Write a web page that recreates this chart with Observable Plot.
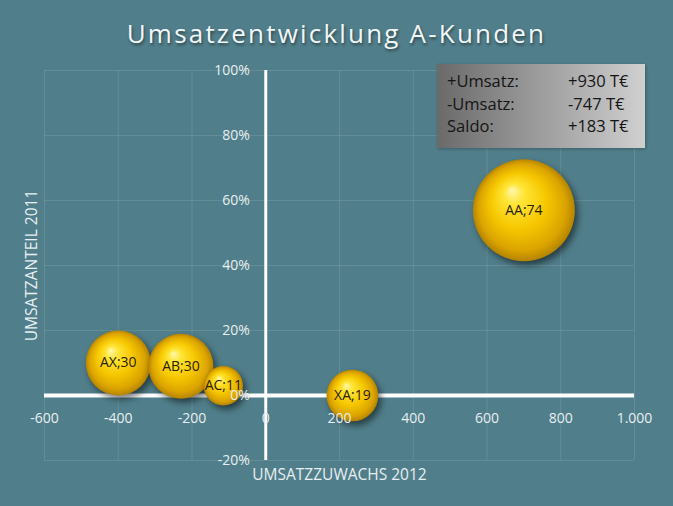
<!DOCTYPE html>
<html><head><meta charset="utf-8">
<script src="https://cdn.jsdelivr.net/npm/d3@7"></script>
<script src="https://cdn.jsdelivr.net/npm/@observablehq/plot@0.6"></script>
<style>
body{margin:0;background:#507e8a;width:673px;height:506px;overflow:hidden;position:relative;font-family:"Open Sans",sans-serif;}
#title{position:absolute;left:0;top:14px;width:673px;text-align:center;font-size:26px;line-height:38px;letter-spacing:2.2px;color:#f2f6f7;text-shadow:1px 2px 3px rgba(0,0,0,0.45);}
#chart{position:absolute;left:0;top:55px;}
#legend{position:absolute;left:437px;top:64px;width:208px;height:84px;background:linear-gradient(to right,#6a6a6a,#d0d0d0);box-shadow:1px 1px 3px rgba(0,0,0,0.25);}
.lab,.val{position:absolute;font-size:16.5px;line-height:22px;color:#151515;white-space:nowrap;}
.lab{left:10px;}
.val{left:131px;}
g[aria-label="dot"] circle{filter:drop-shadow(3px 4px 3px rgba(0,0,0,0.5));}
</style></head>
<body>
<div id="title">Umsatzentwicklung A-Kunden</div>
<div id="chart"></div>
<div id="legend"></div>
<script>
const names = ["AX", "AB", "AC", "XA", "AA"];
const growth = [-400, -230, -115, 235, 700];
const share = [10, 9, 3, 0, 57];
const sizes = [30, 30, 11, 19, 74];

const xTicks = [-600, -400, -200, 0, 200, 400, 600, 800, 1000];
const xTickLabels = ["-600", "-400", "-200", "0", "200", "400", "600", "800", "1.000"];
const yTicks = [-20, 0, 20, 40, 60, 80, 100];
const yTickLabels = ["-20%", "0%", "20%", "40%", "60%", "80%", "100%"];

const legendLabels = ["+Umsatz:", "-Umsatz:", "Saldo:"];
const legendValues = ["+930 T€", "-747 T€", "+183 T€"];

const data = names.map((n, i) => ({name: n, x: growth[i], y: share[i], size: sizes[i]}));

const tickColor = "#e8eff1";

const svg = Plot.plot({
  width: 673, height: 451,
  marginTop: 15, marginBottom: 46, marginLeft: 44, marginRight: 39,
  x: {domain: [-600, 1000], axis: null},
  y: {domain: [-20, 100], axis: null},
  r: {domain: [0, 74], range: [0, 51]},
  style: {background: "transparent", fontFamily: "'Open Sans', sans-serif", overflow: "visible"},
  marks: [
    Plot.ruleX(xTicks, {stroke: "#ffffff", strokeOpacity: 0.11}),
    Plot.ruleY(yTicks, {stroke: "#ffffff", strokeOpacity: 0.11}),
    Plot.ruleY([0], {stroke: "#ffffff", strokeWidth: 4}),
    Plot.ruleX([0], {stroke: "#ffffff", strokeWidth: 3}),
    Plot.dot(data, {x: "x", y: "y", r: "size", fill: "url(#ball)", stroke: null}),
    Plot.text(xTicks, {x: d => d, y: () => 0, text: (d, i) => xTickLabels[i], dy: 23, fill: tickColor, fontSize: 14}),
    Plot.text(yTicks, {x: () => 0, y: d => d, text: (d, i) => yTickLabels[i], dx: -16, textAnchor: "end", fill: tickColor, fontSize: 14}),
    Plot.text(data, {x: "x", y: "y", text: d => d.name + ";" + d.size, fill: "#2a2200", fontSize: 14}),
    Plot.text(["UMSATZZUWACHS 2012"], {frameAnchor: "bottom", lineAnchor: "middle", dy: 15, fill: tickColor, fontSize: 15.5, fontWeight: 500, letterSpacing: "-0.4px"}),
    Plot.text(["UMSATZANTEIL 2011"], {frameAnchor: "left", textAnchor: "middle", lineAnchor: "middle", rotate: -90, dx: -12, fill: tickColor, fontSize: 15.5, fontWeight: 500, letterSpacing: "-0.4px"})
  ]
});

const defs = d3.select(svg).insert("defs", ":first-child");
const g = defs.append("radialGradient").attr("id", "ball")
  .attr("cx", "0.5").attr("cy", "0.5").attr("r", "0.5")
  .attr("fx", "0.38").attr("fy", "0.3");
[["0%", "#fff8b0"], ["20%", "#ffe535"], ["55%", "#f6c700"], ["85%", "#dba400"], ["100%", "#b58400"]]
  .forEach(([o, c]) => g.append("stop").attr("offset", o).attr("stop-color", c));

document.getElementById("chart").appendChild(svg);

const legend = document.getElementById("legend");
legendLabels.forEach((l, i) => {
  const a = document.createElement("div");
  a.className = "lab"; a.style.top = (6 + i * 22.5) + "px"; a.textContent = l;
  const b = document.createElement("div");
  b.className = "val"; b.style.top = (6 + i * 22.5) + "px"; b.textContent = legendValues[i];
  legend.appendChild(a); legend.appendChild(b);
});
</script>
</body></html>
